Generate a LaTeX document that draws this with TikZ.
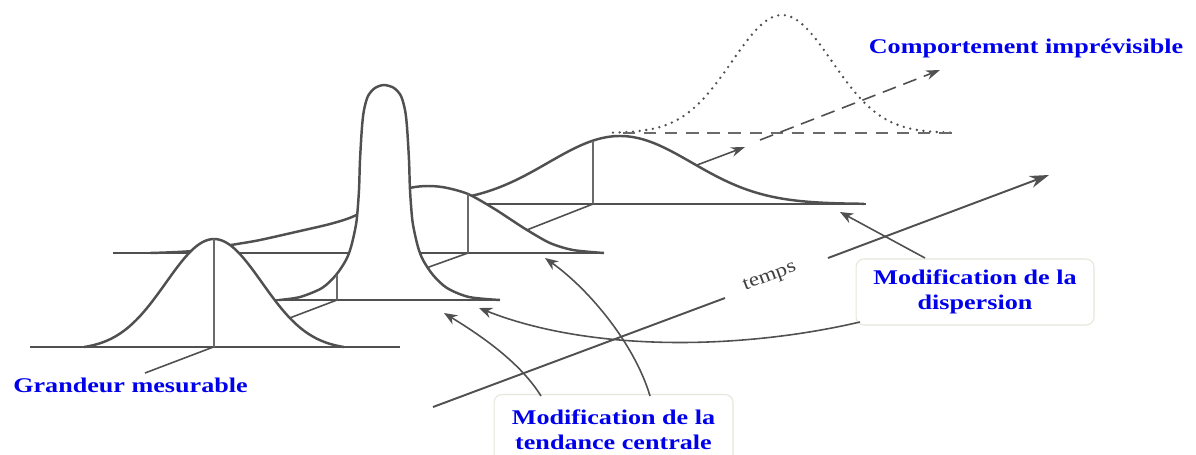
\documentclass[tikz,border=0pt]{standalone}
\usepackage{fontspec}
\usetikzlibrary{arrows.meta}
\newfontfamily\labfont[FakeStretch=1.25]{Liberation Serif Bold}
\newfontfamily\tempsfont[FakeStretch=1.2]{Liberation Serif}
\definecolor{lblue}{RGB}{0,0,235}
\definecolor{lgray}{RGB}{80,80,80}
\definecolor{bordc}{RGB}{230,230,220}
\begin{document}
\begin{tikzpicture}[x=0.02cm,y=-0.02cm,
  curve/.style={draw=lgray, line width=1.4pt, line join=round},
  baseln/.style={draw=lgray, line width=1.2pt},
  vline/.style={draw=lgray!85, line width=0.8pt},
  trend/.style={draw=lgray, line width=0.9pt},
  axisline/.style={draw=lgray, line width=1.1pt},
  pointer/.style={draw=lgray, line width=0.9pt, -{Stealth[length=7.5pt,width=6pt]}},
  lab/.style={text=lblue, font=\labfont\fontsize{11.9pt}{14.3pt}\selectfont, inner sep=0pt},
  labbox/.style={lab, draw=bordc, fill=white, rounded corners=4.5pt, line width=0.6pt, align=center},
]
\useasboundingbox (0,0) rectangle (1196,454);
\fill[white] (0,0) rectangle (1196,454);

% unpredictable (dotted) distribution
\draw[lgray, line width=1.5pt, line cap=round, dash pattern=on 0pt off 3.8pt]
  plot[domain=613:953, samples=120] (\x, {133-118*exp(-0.5*((\x-782)/50)^2)});
\draw[lgray!85, line width=0.7pt, dash pattern=on 7pt off 5pt] (623,133) -- (953,133);
\coordinate (dash0) at (760,140);
\coordinate (dash1) at (940,70);
\draw[trend, dash pattern=on 8pt off 4.5pt, -{Stealth[length=8pt,width=5.5pt]}] (dash0) -- (dash1);

% trend segment behind distribution 4
\coordinate (m4) at (593,204);
\coordinate (t4) at (745,147);
\draw[trend, -{Stealth[length=8pt,width=5.5pt]}] (m4) -- (t4);

% distribution 4
\fill[white] (460,204) -- plot[domain=460:864, samples=150] (\x,{204-68*exp(-0.5*((\x-620)/72)^2)}) -- (864,204) -- cycle;
\draw[baseln] (480,204) -- (866,204);
\draw[curve] plot[domain=460:864, samples=150] (\x,{204-68*exp(-0.5*((\x-620)/72)^2)});
\draw[vline] (593,{204-68*exp(-0.5*((593-620)/72)^2)}) -- (m4);

% trend segment 3-4
\coordinate (m3) at (468,253);
\draw[trend] (m3) -- (m4);

% distribution 3
\fill[white] plot[smooth] coordinates {(150,253) (192,251) (237,244) (260,240) (300,231) (330,224) (352,217) (375,205) (395,193) (412,187.5) (428,186) (445,187.5) (468,194) (493,208) (510,219) (527,230) (550,243) (573,250) (604,253)} -- cycle;
\draw[baseln] (113,253) -- (604,253);
\draw[curve] plot[smooth] coordinates {(150,253) (192,251) (237,244) (260,240) (300,231) (330,224) (352,217) (375,205) (395,193) (412,187.5) (428,186) (445,187.5) (468,194) (493,208) (510,219) (527,230) (550,243) (573,250) (604,253)};
\draw[vline] (468,194) -- (m3);

% trend segment 2-3
\coordinate (m2) at (337,300);
\draw[trend] (m2) -- (m3);

% distribution 2 (tall peak)
\fill[white] plot[smooth] coordinates {(279,300) (300,297) (322,288) (336,275) (346,260) (351,247) (355,230) (357,217) (359,190) (360,160) (362,127) (364,110) (368,96) (375,88) (384,85) (394,88) (401,96) (405,110) (407,127) (409,160) (410,190) (412,217) (414,230) (418,247) (423,260) (433,275) (447,288) (469,297) (500,300)} -- cycle;
\draw[baseln] (275,300) -- (500,300);
\draw[curve] plot[smooth] coordinates {(279,300) (300,297) (322,288) (336,275) (346,260) (351,247) (355,230) (357,217) (359,190) (360,160) (362,127) (364,110) (368,96) (375,88) (384,85) (394,88) (401,96) (405,110) (407,127) (409,160) (410,190) (412,217) (414,230) (418,247) (423,260) (433,275) (447,288) (469,297) (500,300)};
\draw[vline] (337,275) -- (m2);

% trend segment front
\coordinate (m0) at (145,373);
\draw[trend] (m0) -- (m2);

% distribution 1 (front)
\coordinate (m1) at (214,347);
\fill[white] (84,347) -- plot[domain=84:344, samples=120] (\x,{347-110.8*(exp(-0.5*((\x-214)/48)^2)-0.0256)}) -- cycle;
\draw[baseln] (30,347) -- (400,347);
\draw[curve] plot[domain=84:344, samples=120] (\x,{347-110.8*(exp(-0.5*((\x-214)/48)^2)-0.0256)});
\draw[vline] (214,239) -- (m1);

% time axis
\coordinate (ax0) at (433,407);
\coordinate (ax1) at (725,298);
\coordinate (ax2) at (828,258);
\coordinate (ax3) at (1049,175);
\draw[axisline] (ax0) -- (ax1);
\draw[axisline, -{Stealth[length=11pt,width=7pt]}] (ax2) -- (ax3);
\node[font=\tempsfont\fontsize{11pt}{12pt}\selectfont, text=black!75, rotate=20.5, anchor=base, inner sep=0pt] (temps) at (771,280.5) {temps};

% label boxes
\node[labbox, minimum width=4.76cm, minimum height=1.32cm] (disp) at (975,292) {Modification de la\\dispersion};
\node[labbox, minimum width=4.78cm, minimum height=1.42cm] (tend) at (613.5,430) {Modification de la\\tendance centrale};
\node[lab, anchor=base] (gm) at (130.5,392) {Grandeur mesurable};
\node[lab, anchor=base] (ci) at (1026,53) {Comportement imprévisible};

% pointer arrows
\coordinate (dA) at (860,322);
\coordinate (tipA) at (479,308);
\coordinate (dB) at (925,258);
\coordinate (tipB) at (840,212);
\coordinate (tC) at (541,396);
\coordinate (tipC) at (444,313);
\coordinate (tD) at (650,396);
\coordinate (tipD) at (545,258);
\draw[pointer] (dA) .. controls (740,350) and (590,352) .. (tipA);
\draw[pointer] (dB) -- (tipB);
\draw[pointer] (tC) .. controls (520,362) and (480,335) .. (tipC);
\draw[pointer] (tD) .. controls (635,345) and (590,290) .. (tipD);
\end{tikzpicture}
\end{document}
